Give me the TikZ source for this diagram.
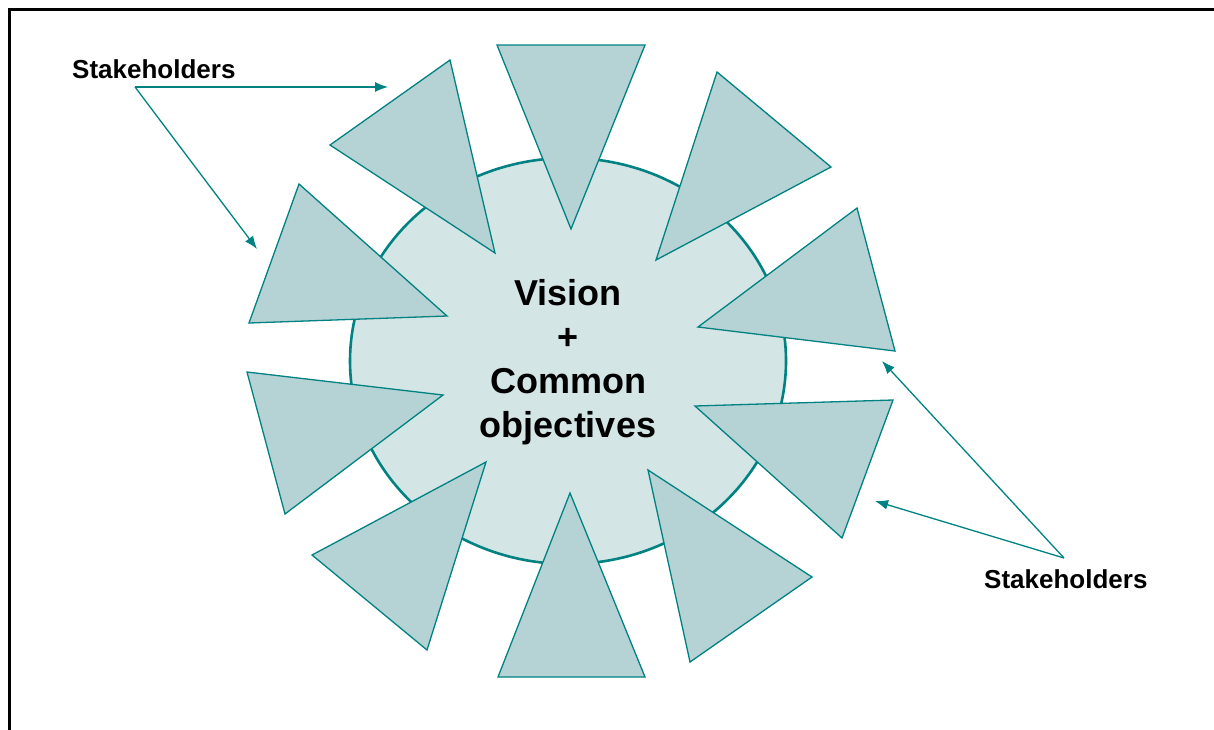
\documentclass[tikz,border=0pt]{standalone}
\usepackage{fontspec}
\setmainfont{Liberation Sans}
\usetikzlibrary{arrows.meta}

\definecolor{tealline}{RGB}{0,130,130}
\definecolor{tealfill}{RGB}{181,210,212}
\definecolor{teallight}{RGB}{212,229,229}

\tikzstyle{stake} = [
    draw=tealline,
    fill=tealfill,
    line width=1.3pt,
    line join=miter
]
\tikzstyle{core} = [
    draw=tealline,
    fill=teallight,
    line width=2.6pt
]
\tikzstyle{label} = [
    font=\fontsize{26}{30}\selectfont\bfseries,
    inner sep=0pt
]
\tikzstyle{arrow} = [tealline, line width=1.3pt, -{Latex[length=13pt,width=10pt]}]

\begin{document}
\begin{tikzpicture}[x=1pt, y=-1pt]
\useasboundingbox (0,0) rectangle (1214,729);

% page frame
\draw [line width=3pt] (9.5,740) -- (9.5,9.5) -- (1225,9.5);

% shared vision
\draw [core] (568,361) ellipse [x radius=218, y radius=203];

% stakeholders round the vision
\draw [stake] (497,45) -- (645,45) -- (571,229) -- cycle;
\draw [stake] (330,145) -- (450,60) -- (495,253) -- cycle;
\draw [stake] (717,72) -- (831,167) -- (656,260) -- cycle;
\draw [stake] (299,184) -- (447,316) -- (249,323) -- cycle;
\draw [stake] (857,208) -- (895,351) -- (698,327) -- cycle;
\draw [stake] (247,372) -- (443,395) -- (285,514) -- cycle;
\draw [stake] (695,406) -- (893,400) -- (842,538) -- cycle;
\draw [stake] (486,462) -- (427,650) -- (312,555) -- cycle;
\draw [stake] (570,493) -- (645,677) -- (498,677) -- cycle;
\draw [stake] (648,470) -- (812,577) -- (690,662) -- cycle;

\node (vision) [font=\fontsize{36}{44}\selectfont\bfseries, align=center]
    at (568,362) {Vision\\+\\Common\\objectives};

\node (lefttag) [label, anchor=base west] at (72,78) {Stakeholders};
\node (righttag) [label, anchor=base west] at (984,588) {Stakeholders};

\coordinate (leftfork) at (135,87);
\coordinate (rightfork) at (1064,558);
\coordinate (tip1) at (388,87);
\coordinate (tip2) at (257,249);
\coordinate (tip3) at (882,361);
\coordinate (tip4) at (875,501);

\draw [arrow] (leftfork) -- (tip1);
\draw [arrow] (leftfork) -- (tip2);
\draw [arrow] (rightfork) -- (tip3);
\draw [arrow] (rightfork) -- (tip4);

\end{tikzpicture}
\end{document}
